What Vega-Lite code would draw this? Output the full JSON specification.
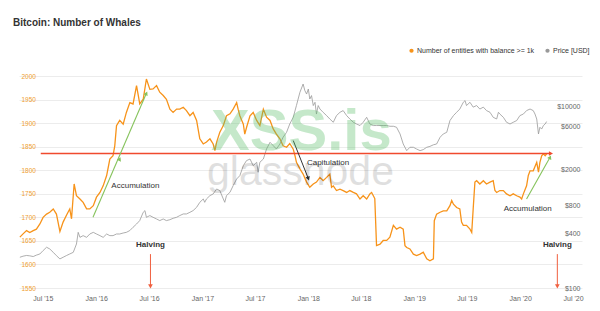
{
  "$schema": "https://vega.github.io/schema/vega-lite/v6.json",
  "width": 563,
  "height": 233,
  "autosize": "none",
  "padding": {"left": 19, "top": 55, "right": 18, "bottom": 23},
  "background": "white",
  "title": {
    "text": "Bitcoin: Number of Whales",
    "anchor": "start",
    "frame": "group",
    "font": "Liberation Sans",
    "fontSize": 10,
    "fontWeight": "bold",
    "color": "#333333",
    "dx": -6,
    "offset": 19
  },
  "datasets": {
    "whales": [
      {"date": "2015-04-13", "whales": 1658}, {"date": "2015-04-24", "whales": 1665}, {"date": "2015-05-06", "whales": 1672},
      {"date": "2015-05-17", "whales": 1668}, {"date": "2015-05-29", "whales": 1672}, {"date": "2015-06-09", "whales": 1675},
      {"date": "2015-06-21", "whales": 1686}, {"date": "2015-07-02", "whales": 1700}, {"date": "2015-07-14", "whales": 1707},
      {"date": "2015-07-25", "whales": 1711}, {"date": "2015-08-06", "whales": 1718}, {"date": "2015-08-17", "whales": 1707},
      {"date": "2015-08-29", "whales": 1670}, {"date": "2015-09-09", "whales": 1690}, {"date": "2015-09-21", "whales": 1705},
      {"date": "2015-10-02", "whales": 1718}, {"date": "2015-10-08", "whales": 1697}, {"date": "2015-10-17", "whales": 1771},
      {"date": "2015-10-25", "whales": 1746}, {"date": "2015-11-06", "whales": 1739}, {"date": "2015-11-17", "whales": 1732},
      {"date": "2015-11-29", "whales": 1718}, {"date": "2015-12-10", "whales": 1718}, {"date": "2015-12-22", "whales": 1725},
      {"date": "2016-01-02", "whales": 1743}, {"date": "2016-01-14", "whales": 1753}, {"date": "2016-01-25", "whales": 1767},
      {"date": "2016-02-06", "whales": 1789}, {"date": "2016-02-17", "whales": 1824}, {"date": "2016-02-28", "whales": 1831},
      {"date": "2016-03-05", "whales": 1852}, {"date": "2016-03-11", "whales": 1895}, {"date": "2016-03-22", "whales": 1906},
      {"date": "2016-04-03", "whales": 1898}, {"date": "2016-04-14", "whales": 1923}, {"date": "2016-04-26", "whales": 1944},
      {"date": "2016-05-07", "whales": 1941}, {"date": "2016-05-19", "whales": 1980}, {"date": "2016-05-25", "whales": 1959},
      {"date": "2016-05-30", "whales": 1941}, {"date": "2016-06-11", "whales": 1951}, {"date": "2016-06-22", "whales": 1994},
      {"date": "2016-07-04", "whales": 1972}, {"date": "2016-07-15", "whales": 1973}, {"date": "2016-07-27", "whales": 1980},
      {"date": "2016-08-07", "whales": 1966}, {"date": "2016-08-19", "whales": 1959}, {"date": "2016-08-30", "whales": 1951},
      {"date": "2016-09-11", "whales": 1930}, {"date": "2016-09-22", "whales": 1923}, {"date": "2016-10-04", "whales": 1930},
      {"date": "2016-10-15", "whales": 1930}, {"date": "2016-10-27", "whales": 1934}, {"date": "2016-11-07", "whales": 1927},
      {"date": "2016-11-19", "whales": 1916}, {"date": "2016-11-30", "whales": 1923}, {"date": "2016-12-12", "whales": 1906},
      {"date": "2016-12-23", "whales": 1867}, {"date": "2017-01-04", "whales": 1856}, {"date": "2017-01-15", "whales": 1860},
      {"date": "2017-01-27", "whales": 1867}, {"date": "2017-02-07", "whales": 1856}, {"date": "2017-02-13", "whales": 1842},
      {"date": "2017-02-19", "whales": 1860}, {"date": "2017-03-02", "whales": 1881}, {"date": "2017-03-14", "whales": 1895},
      {"date": "2017-03-25", "whales": 1916}, {"date": "2017-04-06", "whales": 1920}, {"date": "2017-04-17", "whales": 1930},
      {"date": "2017-04-29", "whales": 1944}, {"date": "2017-05-04", "whales": 1930}, {"date": "2017-05-10", "whales": 1916},
      {"date": "2017-05-22", "whales": 1898}, {"date": "2017-05-27", "whales": 1877}, {"date": "2017-06-02", "whales": 1891},
      {"date": "2017-06-14", "whales": 1916}, {"date": "2017-06-25", "whales": 1923}, {"date": "2017-07-07", "whales": 1906},
      {"date": "2017-07-18", "whales": 1895}, {"date": "2017-07-30", "whales": 1930}, {"date": "2017-08-10", "whales": 1913},
      {"date": "2017-08-22", "whales": 1906}, {"date": "2017-09-02", "whales": 1888}, {"date": "2017-09-13", "whales": 1877},
      {"date": "2017-09-25", "whales": 1867}, {"date": "2017-10-06", "whales": 1852}, {"date": "2017-10-18", "whales": 1849},
      {"date": "2017-10-29", "whales": 1857}, {"date": "2017-11-10", "whales": 1845}, {"date": "2017-11-16", "whales": 1831},
      {"date": "2017-11-21", "whales": 1817}, {"date": "2017-12-03", "whales": 1803}, {"date": "2017-12-14", "whales": 1792},
      {"date": "2017-12-26", "whales": 1775}, {"date": "2018-01-06", "whales": 1764}, {"date": "2018-01-18", "whales": 1771},
      {"date": "2018-01-29", "whales": 1775}, {"date": "2018-02-10", "whales": 1785}, {"date": "2018-02-21", "whales": 1778},
      {"date": "2018-03-05", "whales": 1785}, {"date": "2018-03-16", "whales": 1792}, {"date": "2018-03-22", "whales": 1764},
      {"date": "2018-03-28", "whales": 1767}, {"date": "2018-04-08", "whales": 1757}, {"date": "2018-04-20", "whales": 1760},
      {"date": "2018-05-01", "whales": 1757}, {"date": "2018-05-13", "whales": 1753}, {"date": "2018-05-24", "whales": 1757},
      {"date": "2018-06-05", "whales": 1753}, {"date": "2018-06-16", "whales": 1750}, {"date": "2018-06-28", "whales": 1739},
      {"date": "2018-07-09", "whales": 1746}, {"date": "2018-07-21", "whales": 1739}, {"date": "2018-08-01", "whales": 1750},
      {"date": "2018-08-07", "whales": 1753}, {"date": "2018-08-13", "whales": 1746}, {"date": "2018-08-18", "whales": 1740},
      {"date": "2018-08-24", "whales": 1640}, {"date": "2018-09-05", "whales": 1643}, {"date": "2018-09-16", "whales": 1651},
      {"date": "2018-09-28", "whales": 1651}, {"date": "2018-10-09", "whales": 1658}, {"date": "2018-10-21", "whales": 1683},
      {"date": "2018-11-01", "whales": 1675}, {"date": "2018-11-13", "whales": 1679}, {"date": "2018-11-24", "whales": 1675},
      {"date": "2018-11-30", "whales": 1640}, {"date": "2018-12-06", "whales": 1636}, {"date": "2018-12-17", "whales": 1633},
      {"date": "2018-12-29", "whales": 1622}, {"date": "2019-01-09", "whales": 1619}, {"date": "2019-01-21", "whales": 1622},
      {"date": "2019-02-01", "whales": 1626}, {"date": "2019-02-13", "whales": 1612}, {"date": "2019-02-24", "whales": 1608},
      {"date": "2019-03-08", "whales": 1612}, {"date": "2019-03-11", "whales": 1693}, {"date": "2019-03-19", "whales": 1707},
      {"date": "2019-03-31", "whales": 1711}, {"date": "2019-04-11", "whales": 1714}, {"date": "2019-04-23", "whales": 1714},
      {"date": "2019-05-04", "whales": 1725}, {"date": "2019-05-10", "whales": 1736}, {"date": "2019-05-16", "whales": 1728},
      {"date": "2019-05-27", "whales": 1721}, {"date": "2019-06-07", "whales": 1718}, {"date": "2019-06-13", "whales": 1690},
      {"date": "2019-06-19", "whales": 1683}, {"date": "2019-06-30", "whales": 1683}, {"date": "2019-07-12", "whales": 1675},
      {"date": "2019-07-18", "whales": 1668}, {"date": "2019-07-23", "whales": 1718}, {"date": "2019-07-29", "whales": 1775},
      {"date": "2019-08-04", "whales": 1778}, {"date": "2019-08-15", "whales": 1771}, {"date": "2019-08-27", "whales": 1778},
      {"date": "2019-09-07", "whales": 1771}, {"date": "2019-09-19", "whales": 1775}, {"date": "2019-09-30", "whales": 1778},
      {"date": "2019-10-06", "whales": 1757}, {"date": "2019-10-12", "whales": 1753}, {"date": "2019-10-23", "whales": 1757},
      {"date": "2019-11-04", "whales": 1757}, {"date": "2019-11-15", "whales": 1750}, {"date": "2019-11-27", "whales": 1746},
      {"date": "2019-12-08", "whales": 1750}, {"date": "2019-12-20", "whales": 1746}, {"date": "2019-12-31", "whales": 1743},
      {"date": "2020-01-06", "whales": 1739}, {"date": "2020-01-12", "whales": 1750}, {"date": "2020-01-23", "whales": 1767},
      {"date": "2020-01-29", "whales": 1789}, {"date": "2020-02-04", "whales": 1799}, {"date": "2020-02-15", "whales": 1799},
      {"date": "2020-02-27", "whales": 1817}, {"date": "2020-03-04", "whales": 1796}, {"date": "2020-03-09", "whales": 1817},
      {"date": "2020-03-15", "whales": 1831}, {"date": "2020-03-21", "whales": 1835}, {"date": "2020-03-27", "whales": 1831},
      {"date": "2020-04-01", "whales": 1835}
    ],
    "price": [
      {"date": "2015-04-13", "price": 218}, {"date": "2015-04-24", "price": 224}, {"date": "2015-05-06", "price": 228},
      {"date": "2015-05-17", "price": 226}, {"date": "2015-05-29", "price": 222}, {"date": "2015-06-09", "price": 230},
      {"date": "2015-06-21", "price": 237}, {"date": "2015-07-02", "price": 258}, {"date": "2015-07-14", "price": 281},
      {"date": "2015-07-25", "price": 269}, {"date": "2015-08-06", "price": 247}, {"date": "2015-08-17", "price": 227},
      {"date": "2015-08-29", "price": 209}, {"date": "2015-09-09", "price": 218}, {"date": "2015-09-21", "price": 228},
      {"date": "2015-10-02", "price": 237}, {"date": "2015-10-14", "price": 247}, {"date": "2015-10-25", "price": 305},
      {"date": "2015-10-31", "price": 410}, {"date": "2015-11-06", "price": 361}, {"date": "2015-11-17", "price": 377},
      {"date": "2015-11-29", "price": 361}, {"date": "2015-12-10", "price": 393}, {"date": "2015-12-22", "price": 410},
      {"date": "2016-01-02", "price": 393}, {"date": "2016-01-14", "price": 377}, {"date": "2016-01-25", "price": 361},
      {"date": "2016-02-06", "price": 393}, {"date": "2016-02-17", "price": 377}, {"date": "2016-02-28", "price": 377},
      {"date": "2016-03-11", "price": 393}, {"date": "2016-03-22", "price": 393}, {"date": "2016-04-03", "price": 403},
      {"date": "2016-04-14", "price": 410}, {"date": "2016-04-26", "price": 429}, {"date": "2016-05-07", "price": 466},
      {"date": "2016-05-19", "price": 506}, {"date": "2016-05-30", "price": 552}, {"date": "2016-06-11", "price": 681},
      {"date": "2016-06-17", "price": 711}, {"date": "2016-06-22", "price": 600}, {"date": "2016-07-04", "price": 627},
      {"date": "2016-07-15", "price": 600}, {"date": "2016-07-27", "price": 575}, {"date": "2016-08-07", "price": 552},
      {"date": "2016-08-19", "price": 575}, {"date": "2016-08-30", "price": 552}, {"date": "2016-09-11", "price": 565},
      {"date": "2016-09-22", "price": 585}, {"date": "2016-10-04", "price": 600}, {"date": "2016-10-15", "price": 627},
      {"date": "2016-10-27", "price": 653}, {"date": "2016-11-07", "price": 653}, {"date": "2016-11-19", "price": 681},
      {"date": "2016-11-30", "price": 711}, {"date": "2016-12-12", "price": 773}, {"date": "2016-12-23", "price": 877},
      {"date": "2017-01-04", "price": 955}, {"date": "2017-01-09", "price": 877}, {"date": "2017-01-15", "price": 955},
      {"date": "2017-01-27", "price": 1040}, {"date": "2017-02-07", "price": 1084}, {"date": "2017-02-19", "price": 1230},
      {"date": "2017-03-02", "price": 1181}, {"date": "2017-03-14", "price": 955}, {"date": "2017-03-19", "price": 877},
      {"date": "2017-03-25", "price": 1040}, {"date": "2017-04-06", "price": 1130}, {"date": "2017-04-17", "price": 1340},
      {"date": "2017-04-29", "price": 1585}, {"date": "2017-05-10", "price": 1725}, {"date": "2017-05-22", "price": 2224},
      {"date": "2017-06-02", "price": 2524}, {"date": "2017-06-14", "price": 2629}, {"date": "2017-06-25", "price": 2224},
      {"date": "2017-07-07", "price": 2420}, {"date": "2017-07-12", "price": 1879}, {"date": "2017-07-18", "price": 2420},
      {"date": "2017-07-30", "price": 2629}, {"date": "2017-08-10", "price": 3388}, {"date": "2017-08-22", "price": 4015},
      {"date": "2017-09-02", "price": 3690}, {"date": "2017-09-13", "price": 3388}, {"date": "2017-09-25", "price": 3846},
      {"date": "2017-10-06", "price": 4561}, {"date": "2017-10-18", "price": 5176}, {"date": "2017-10-29", "price": 6386},
      {"date": "2017-11-10", "price": 7566}, {"date": "2017-11-21", "price": 10190}, {"date": "2017-12-03", "price": 14260},
      {"date": "2017-12-14", "price": 17580}, {"date": "2017-12-20", "price": 14890}, {"date": "2017-12-26", "price": 13650},
      {"date": "2018-01-01", "price": 15490}, {"date": "2018-01-06", "price": 12030}, {"date": "2018-01-12", "price": 13120},
      {"date": "2018-01-18", "price": 10190}, {"date": "2018-01-24", "price": 11070}, {"date": "2018-01-29", "price": 8220},
      {"date": "2018-02-04", "price": 10190}, {"date": "2018-02-10", "price": 9330}, {"date": "2018-02-21", "price": 8590},
      {"date": "2018-03-05", "price": 7900}, {"date": "2018-03-16", "price": 7250}, {"date": "2018-03-28", "price": 6670},
      {"date": "2018-04-08", "price": 7900}, {"date": "2018-04-20", "price": 8590}, {"date": "2018-05-01", "price": 8970},
      {"date": "2018-05-13", "price": 7900}, {"date": "2018-05-24", "price": 7250}, {"date": "2018-06-05", "price": 6670},
      {"date": "2018-06-16", "price": 6386}, {"date": "2018-06-28", "price": 6140}, {"date": "2018-07-09", "price": 6670},
      {"date": "2018-07-21", "price": 7566}, {"date": "2018-08-01", "price": 6386}, {"date": "2018-08-13", "price": 6140},
      {"date": "2018-08-24", "price": 6140}, {"date": "2018-09-05", "price": 6140}, {"date": "2018-09-16", "price": 6140},
      {"date": "2018-09-28", "price": 6140}, {"date": "2018-10-09", "price": 6030}, {"date": "2018-10-21", "price": 6030},
      {"date": "2018-11-01", "price": 5880}, {"date": "2018-11-13", "price": 4960}, {"date": "2018-11-24", "price": 3846},
      {"date": "2018-12-06", "price": 3250}, {"date": "2018-12-17", "price": 3540}, {"date": "2018-12-29", "price": 3540},
      {"date": "2019-01-09", "price": 3388}, {"date": "2019-01-21", "price": 3250}, {"date": "2019-02-01", "price": 3335},
      {"date": "2019-02-13", "price": 3540}, {"date": "2019-02-24", "price": 3620}, {"date": "2019-03-08", "price": 3770},
      {"date": "2019-03-19", "price": 3846}, {"date": "2019-03-31", "price": 4561}, {"date": "2019-04-11", "price": 4960},
      {"date": "2019-04-23", "price": 5176}, {"date": "2019-05-04", "price": 6970}, {"date": "2019-05-16", "price": 7900},
      {"date": "2019-05-27", "price": 8590}, {"date": "2019-06-07", "price": 9330}, {"date": "2019-06-19", "price": 11070},
      {"date": "2019-06-25", "price": 11560}, {"date": "2019-06-30", "price": 10190}, {"date": "2019-07-12", "price": 11070},
      {"date": "2019-07-23", "price": 9790}, {"date": "2019-08-04", "price": 10190}, {"date": "2019-08-15", "price": 9330},
      {"date": "2019-08-27", "price": 9790}, {"date": "2019-09-07", "price": 8970}, {"date": "2019-09-19", "price": 8590},
      {"date": "2019-09-30", "price": 7566}, {"date": "2019-10-12", "price": 7250}, {"date": "2019-10-18", "price": 8590},
      {"date": "2019-10-23", "price": 8220}, {"date": "2019-11-04", "price": 7566}, {"date": "2019-11-15", "price": 6670},
      {"date": "2019-11-27", "price": 6386}, {"date": "2019-12-08", "price": 6670}, {"date": "2019-12-20", "price": 6970},
      {"date": "2019-12-31", "price": 7900}, {"date": "2020-01-12", "price": 8220}, {"date": "2020-01-23", "price": 8970},
      {"date": "2020-02-04", "price": 9330}, {"date": "2020-02-15", "price": 8970}, {"date": "2020-02-21", "price": 8220},
      {"date": "2020-02-27", "price": 7250}, {"date": "2020-03-04", "price": 4960}, {"date": "2020-03-09", "price": 5880},
      {"date": "2020-03-15", "price": 5620}, {"date": "2020-03-21", "price": 6140}, {"date": "2020-03-27", "price": 6386},
      {"date": "2020-04-01", "price": 6790}
    ]
  },
  "encoding": {
    "x": {
      "field": "date",
      "type": "temporal",
      "scale": {
        "type": "utc",
        "domain": [{"year": 2015, "month": 4, "date": 10, "utc": true}, {"year": 2020, "month": 8, "date": 1, "utc": true}],
        "nice": false
      },
      "axis": {
        "title": null,
        "labelExpr": "utcFormat(datum.value, \"%b '%y\")",
        "values": [
          {"year": 2015, "month": 7, "date": 1, "utc": true}, {"year": 2016, "month": 1, "date": 1, "utc": true},
          {"year": 2016, "month": 7, "date": 1, "utc": true}, {"year": 2017, "month": 1, "date": 1, "utc": true},
          {"year": 2017, "month": 7, "date": 1, "utc": true}, {"year": 2018, "month": 1, "date": 1, "utc": true},
          {"year": 2018, "month": 7, "date": 1, "utc": true}, {"year": 2019, "month": 1, "date": 1, "utc": true},
          {"year": 2019, "month": 7, "date": 1, "utc": true}, {"year": 2020, "month": 1, "date": 1, "utc": true},
          {"year": 2020, "month": 7, "date": 1, "utc": true}
        ],
        "grid": false,
        "domain": false,
        "ticks": false,
        "labelPadding": 6,
        "labelFontSize": 7,
        "labelColor": "#666666",
        "labelFont": "Liberation Sans"
      }
    }
  },
  "layer": [
    {
      "data": {"name": "whales"},
      "mark": {"type": "line", "strokeWidth": 1.3, "interpolate": "linear"},
      "encoding": {
        "y": {
          "field": "whales",
          "type": "quantitative",
          "scale": {"domain": [1550, 2045], "nice": false, "zero": false},
          "axis": {
            "orient": "left",
            "title": null,
            "format": "d",
            "values": [1550, 1600, 1650, 1700, 1750, 1800, 1850, 1900, 1950, 2000],
            "domain": false,
            "ticks": false,
            "labelAlign": "left",
            "labelPadding": -2,
            "labelFontSize": 6.5,
            "labelFont": "Liberation Sans",
            "labelColor": "#f0a030",
            "grid": true,
            "gridColor": "#ececec",
            "gridWidth": 1
          }
        },
        "color": {
          "datum": "Number of entities with balance >= 1k",
          "type": "nominal",
          "scale": {"domain": ["Number of entities with balance >= 1k", "Price [USD]"], "range": ["#f7931a", "#999999"]},
          "legend": {
            "orient": "none",
            "legendX": 389,
            "legendY": -8,
            "direction": "horizontal",
            "title": null,
            "symbolType": "circle",
            "symbolSize": 18,
            "labelFontSize": 7,
            "labelFont": "Liberation Sans",
            "labelColor": "#333333",
            "labelOffset": 2,
            "columnPadding": 9,
            "padding": 0,
            "encode": {"symbols": {"update": {"fill": {"scale": "color", "field": "value"}, "strokeWidth": {"value": 0}}}}
          }
        }
      }
    },
    {
      "data": {"name": "price"},
      "mark": {"type": "line", "strokeWidth": 0.8},
      "encoding": {
        "y": {
          "field": "price",
          "type": "quantitative",
          "scale": {"type": "log", "domain": [100, 36700], "nice": false},
          "axis": {
            "orient": "right",
            "title": null,
            "values": [100, 400, 800, 2000, 6000, 10000],
            "labelExpr": "'$' + datum.value",
            "domain": false,
            "ticks": false,
            "grid": false,
            "labelAlign": "right",
            "labelPadding": -2,
            "labelFontSize": 7,
            "labelFont": "Liberation Sans",
            "labelColor": "#666666"
          }
        },
        "color": {"datum": "Price [USD]", "type": "nominal"}
      }
    },
    {
      "encoding": {
        "y": {"field": "v", "type": "quantitative", "scale": {"domain": [1550, 2045], "nice": false, "zero": false}, "axis": null}
      },
      "layer": [
        {
          "data": {"values": [{"date": "2015-06-24", "v": 1835.7}, {"date": "2020-04-16", "v": 1835.7}]},
          "mark": {"type": "line", "color": "#f04a2e", "strokeWidth": 1.3},
          "encoding": {}
        },
        {
          "data": {"values": [{"date": "2020-04-16", "v": 1835.7}]},
          "mark": {"type": "point", "shape": "triangle-right", "filled": true, "color": "#f04a2e", "size": 22, "opacity": 1},
          "encoding": {}
        },
        {
          "data": {"values": [
            {"date": "2016-07-06", "v": 1622, "v2": 1556},
            {"date": "2020-05-08", "v": 1622, "v2": 1556}
          ]},
          "mark": {"type": "rule", "color": "#f0603f", "strokeWidth": 1},
          "encoding": {"y2": {"field": "v2"}}
        },
        {
          "data": {"values": [{"date": "2016-07-06", "v": 1553.5}, {"date": "2020-05-08", "v": 1553.5}]},
          "mark": {"type": "point", "shape": "triangle-down", "filled": true, "color": "#f0603f", "size": 22, "opacity": 1},
          "encoding": {}
        },
        {
          "data": {"values": [
            {"date": "2015-12-21", "v": 1700.2, "date2": "2016-06-22", "v2": 1963.6},
            {"date": "2020-01-23", "v": 1739.1, "date2": "2020-04-13", "v2": 1827.7}
          ]},
          "mark": {"type": "rule", "color": "#86c35c", "strokeWidth": 1.1},
          "encoding": {"x2": {"field": "date2"}, "y2": {"field": "v2"}}
        },
        {
          "data": {"values": [
            {"date": "2016-03-22", "v": 1824},
            {"date": "2016-06-22", "v": 1963.6},
            {"date": "2020-04-13", "v": 1827.7}
          ]},
          "mark": {"type": "point", "shape": "triangle-up", "angle": 25, "filled": true, "color": "#86c35c", "size": 20, "opacity": 1},
          "encoding": {}
        },
        {
          "data": {"values": [{"date": "2017-11-10", "v": 1863.2, "date2": "2018-01-01", "v2": 1782.4}]},
          "mark": {"type": "rule", "color": "#333333", "strokeWidth": 1},
          "encoding": {"x2": {"field": "date2"}, "y2": {"field": "v2"}}
        },
        {
          "data": {"values": [{"date": "2018-01-01", "v": 1782.4}]},
          "mark": {"type": "point", "shape": "triangle-up", "angle": 159, "filled": true, "color": "#333333", "size": 20, "opacity": 1},
          "encoding": {}
        },
        {
          "data": {"values": [
            {"date": "2016-05-15", "v": 1766.1, "label": "Accumulation"},
            {"date": "2020-01-27", "v": 1717.8, "label": "Accumulation"},
            {"date": "2018-03-10", "v": 1815.6, "label": "Capitulation"}
          ]},
          "mark": {"type": "text", "font": "Liberation Sans", "fontSize": 8, "color": "#333333", "align": "center", "baseline": "middle"},
          "encoding": {"text": {"field": "label"}}
        },
        {
          "data": {"values": [
            {"date": "2016-07-06", "v": 1640.7, "label": "Halving"},
            {"date": "2020-05-08", "v": 1640.7, "label": "Halving"}
          ]},
          "mark": {"type": "text", "font": "Liberation Sans", "fontSize": 8, "fontWeight": "bold", "color": "#333333", "align": "center", "baseline": "middle"},
          "encoding": {"text": {"field": "label"}}
        },
        {
          "data": {"values": [{"date": "2017-12-08", "v": 1842.5, "label": "XSS.is"}]},
          "mark": {"type": "text", "font": "Liberation Sans", "fontSize": 58, "fontWeight": "bold", "color": "#5cbf6a", "opacity": 0.35, "align": "center", "baseline": "alphabetic"},
          "encoding": {"text": {"field": "label"}}
        },
        {
          "data": {"values": [{"date": "2017-12-05", "v": 1768.2, "label": "glassnode"}]},
          "mark": {"type": "text", "font": "Liberation Sans", "fontSize": 41, "color": "#000000", "opacity": 0.12, "align": "center", "baseline": "alphabetic"},
          "encoding": {"text": {"field": "label"}}
        }
      ]
    }
  ],
  "resolve": {"scale": {"y": "independent"}},
  "config": {
    "view": {"stroke": null},
    "font": "Liberation Sans"
  }
}
